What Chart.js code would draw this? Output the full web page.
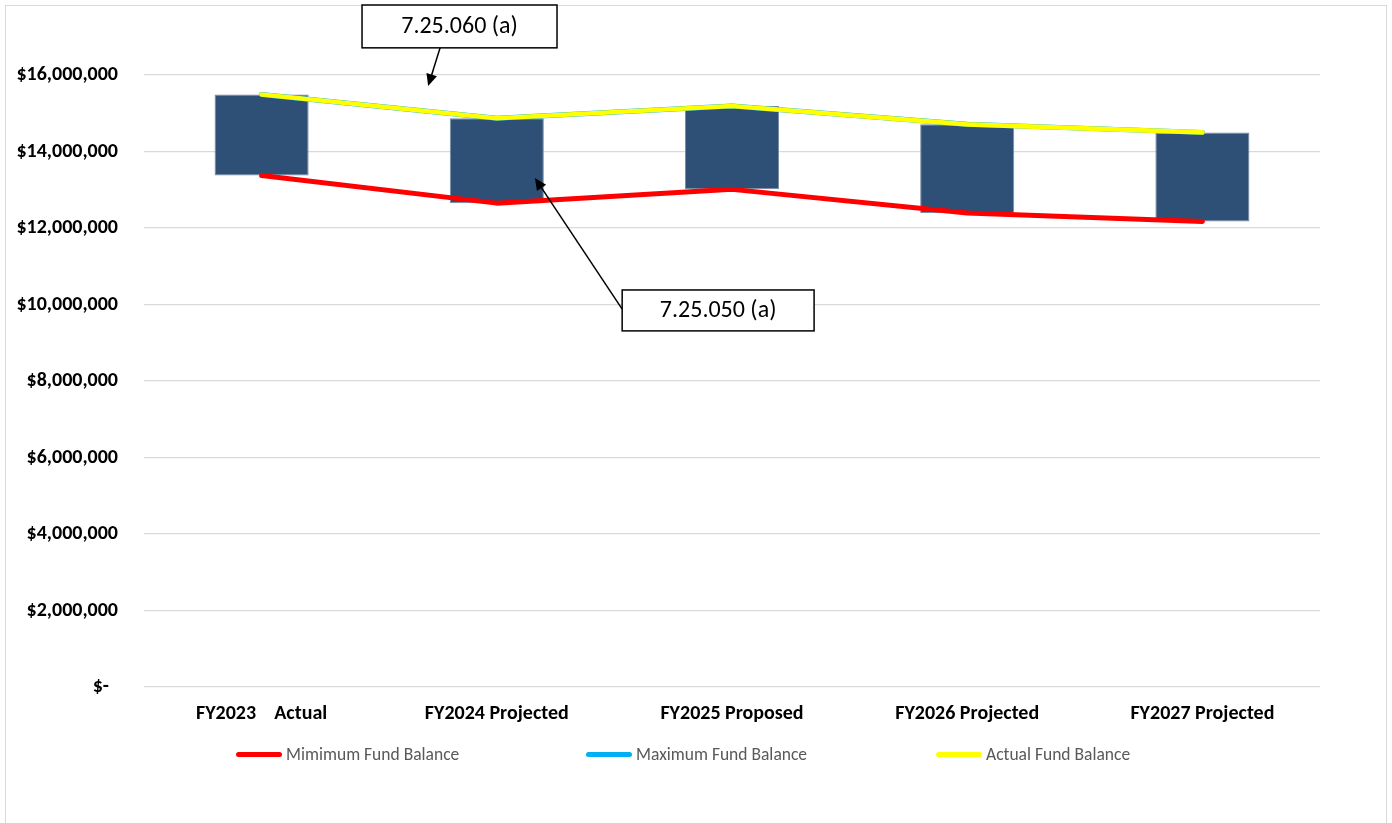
<!DOCTYPE html>
<html>
<head>
<meta charset="utf-8">
<script src="https://cdn.jsdelivr.net/npm/chart.js@4.4.1/dist/chart.umd.min.js"></script>
<style>
  html, body { margin: 0; padding: 0; background: #ffffff; }
  #wrap { position: relative; width: 1392px; height: 823px; overflow: hidden; }
  #frame { position: absolute; left: 5px; top: 5px; width: 1382px; height: 830px; border: 1.5px solid #d9d9d9; box-sizing: border-box; }
  #c { position: absolute; left: 0; top: 0; }
  #legend { position: absolute; left: 236px; top: 743px; display: flex; font-family: Carlito, Lato, sans-serif; font-size: 17.5px; color: #595959; }
  .item { width: 350px; display: flex; align-items: center; height: 22px; }
  .swatch { width: 46px; height: 5px; border-radius: 3px; margin-right: 4px; }
</style>
</head>
<body>
<div id="wrap">
  <div id="frame"></div>
  <canvas id="c" width="1392" height="823"></canvas>
  <div id="legend"></div>
</div>
<script>
const categories = ['FY2023    Actual', 'FY2024 Projected', 'FY2025 Proposed', 'FY2026 Projected', 'FY2027 Projected'];
const minBalance = [13370000, 12650000, 13010000, 12390000, 12170000];
const maxBalance = [15490000, 14870000, 15190000, 14710000, 14500000];
const actualBalance = [15490000, 14870000, 15190000, 14710000, 14500000];
const yTicks = [0, 2000000, 4000000, 6000000, 8000000, 10000000, 12000000, 14000000, 16000000];

const seriesNames = ['Mimimum Fund Balance', 'Maximum Fund Balance', 'Actual Fund Balance'];
const seriesColors = ['#ff0000', '#00b0f0', '#ffff00'];

// annotations: box corners and arrow in (category index, value) units
const notes = [
  { text: '7.25.060 (a)', box: [0.427, 17830000, 1.256, 16710000], from: [0.759, 16710000], to: [0.708, 15710000] },
  { text: '7.25.050 (a)', box: [1.533, 10380000, 2.349, 9310000], from: [1.533, 9880000], to: [1.162, 13310000] }
];

const FONT = 'Carlito, Lato, sans-serif';

const annotPlugin = {
  id: 'annot',
  afterDatasetsDraw(chart) {
    const ctx = chart.ctx, xs = chart.scales.x, ys = chart.scales.y;
    ctx.save();
    notes.forEach(n => {
      const x1 = xs.getPixelForValue(n.box[0]), y1 = ys.getPixelForValue(n.box[1]);
      const x2 = xs.getPixelForValue(n.box[2]), y2 = ys.getPixelForValue(n.box[3]);
      const fx = xs.getPixelForValue(n.from[0]), fy = ys.getPixelForValue(n.from[1]);
      const tx = xs.getPixelForValue(n.to[0]), ty = ys.getPixelForValue(n.to[1]);
      const ang = Math.atan2(ty - fy, tx - fx);
      const hl = 12, hw = 5.5;
      ctx.strokeStyle = '#000'; ctx.lineWidth = 1.5;
      ctx.beginPath(); ctx.moveTo(fx, fy);
      ctx.lineTo(tx - Math.cos(ang) * hl * 0.8, ty - Math.sin(ang) * hl * 0.8); ctx.stroke();
      ctx.fillStyle = '#000';
      ctx.beginPath();
      ctx.moveTo(tx, ty);
      ctx.lineTo(tx - Math.cos(ang) * hl - Math.sin(ang) * hw, ty - Math.sin(ang) * hl + Math.cos(ang) * hw);
      ctx.lineTo(tx - Math.cos(ang) * hl + Math.sin(ang) * hw, ty - Math.sin(ang) * hl - Math.cos(ang) * hw);
      ctx.closePath(); ctx.fill();
      ctx.fillStyle = '#fff';
      ctx.fillRect(x1, y1, x2 - x1, y2 - y1);
      ctx.lineWidth = 1.5; ctx.strokeStyle = '#000';
      ctx.strokeRect(x1, y1, x2 - x1, y2 - y1);
      ctx.fillStyle = '#000';
      ctx.font = '24px ' + FONT;
      ctx.textAlign = 'center'; ctx.textBaseline = 'middle';
      ctx.fillText(n.text, (x1 + x2) / 2, (y1 + y2) / 2 + 1);
    });
    ctx.restore();
  }
};

const lineDs = (i, data, order, width) => ({
  type: 'line', label: seriesNames[i], data: data,
  borderColor: seriesColors[i], backgroundColor: seriesColors[i],
  borderWidth: width, pointRadius: 0, fill: false, tension: 0,
  borderCapStyle: 'round', borderJoinStyle: 'round', order: order
});

const chart = new Chart(document.getElementById('c'), {
  data: {
    labels: categories,
    datasets: [
      lineDs(0, minBalance, 2, 5),
      lineDs(1, maxBalance, 1, 5),
      lineDs(2, actualBalance, 0, 4.7),
      {
        type: 'bar', label: 'Range', data: minBalance.map((v, i) => [v, maxBalance[i]]),
        backgroundColor: '#2e4f76', borderColor: '#7b8ca3', borderWidth: 1, borderSkipped: false,
        categoryPercentage: 1, barPercentage: 0.4, order: 3
      }
    ]
  },
  options: {
    responsive: false, animation: false, devicePixelRatio: 1,
    layout: { padding: { left: 0, right: 72, top: 75, bottom: 0 } },
    plugins: { legend: { display: false }, tooltip: { enabled: false } },
    scales: {
      x: {
        grid: { display: false, drawTicks: false }, border: { display: false },
        ticks: { color: '#000', padding: 15, font: { family: FONT, size: 20, weight: 'bold' }, maxRotation: 0, autoSkip: false },
        afterFit(s) { s.height = 136; }
      },
      y: {
        min: 0, max: 16000000,
        afterBuildTicks(s) { s.ticks = yTicks.map(v => ({ value: v })); },
        grid: { color: '#d9d9d9', lineWidth: 1.3, drawTicks: false }, border: { display: false },
        ticks: {
          color: '#000', padding: 26, font: { family: FONT, size: 20, weight: 'bold' },
          callback: v => v === 0 ? '$-  ' : '$' + v.toLocaleString('en-US')
        },
        afterFit(s) { s.width = 144; }
      }
    }
  },
  plugins: [annotPlugin]
});

const lg = document.getElementById('legend');
seriesNames.forEach((name, i) => {
  const it = document.createElement('div'); it.className = 'item';
  const sw = document.createElement('span'); sw.className = 'swatch'; sw.style.background = seriesColors[i];
  const tx = document.createElement('span'); tx.textContent = name;
  it.appendChild(sw); it.appendChild(tx); lg.appendChild(it);
});
</script>
</body>
</html>
